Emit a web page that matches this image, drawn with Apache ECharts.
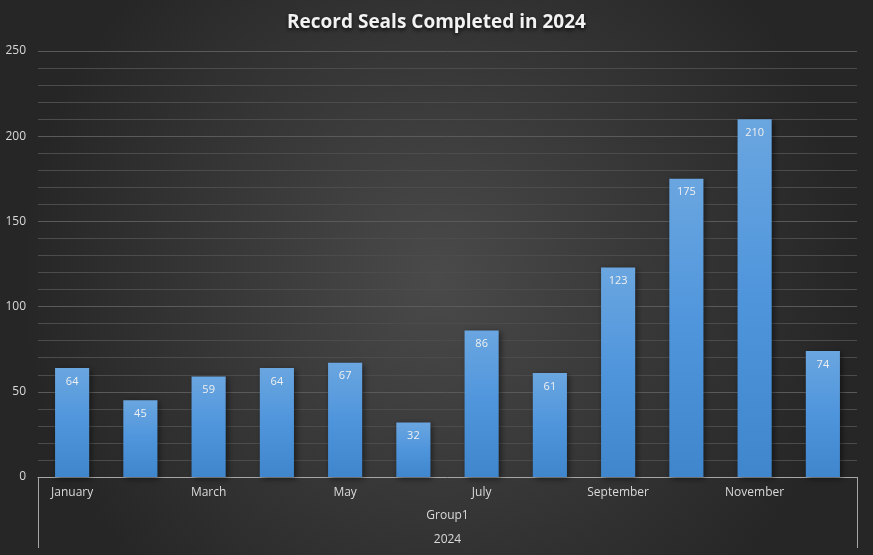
<!DOCTYPE html>
<html><head><meta charset="utf-8">
<script src="https://cdn.jsdelivr.net/npm/echarts@6/dist/echarts.min.js"></script>
<style>html,body{margin:0;padding:0;}#c{width:873px;height:555px;}</style>
</head><body><div id="c"></div>
<script>
const months = ['January','February','March','April','May','June','July','August','September','October','November','December'];
const seals = [64,45,59,64,67,32,86,61,123,175,210,74];
const groupLabels = ['Group1'];
const yearLabels = ['2024'];

const chart = echarts.init(document.getElementById('c'));
const font = '"Open Sans", "DejaVu Sans", sans-serif';
chart.setOption({
  backgroundColor: new echarts.graphic.RadialGradient(0.5, 0.5, 0.75, [
    {offset: 0, color: '#4a4a4a'}, {offset: 1, color: '#262626'}
  ]),
  title: {
    text: 'Record Seals Completed in 2024', left: 'center', top: 8,
    textStyle: {color: '#f2f2f2', fontSize: 19, fontWeight: 'bold', fontFamily: font,
      textShadowColor: 'rgba(0,0,0,0.8)', textShadowBlur: 4, textShadowOffsetY: 2}
  },
  grid: {left: 38, right: 16, top: 51, bottom: 78},
  xAxis: [
    {type: 'category', data: months, position: 'bottom',
     axisLine: {lineStyle: {color: '#a6a6a6'}}, axisTick: {show: false},
     axisLabel: {color: '#d9d9d9', fontSize: 12, fontFamily: font, margin: 10}},
    {type: 'category', data: groupLabels, position: 'bottom',
     axisLine: {show: false},
     axisTick: {show: true, length: 71, lineStyle: {color: '#a6a6a6'}},
     axisLabel: {color: '#d9d9d9', fontSize: 12, fontFamily: font, margin: 33}},
    {type: 'category', data: yearLabels, position: 'bottom',
     axisLine: {show: false}, axisTick: {show: false},
     axisLabel: {color: '#d9d9d9', fontSize: 12, fontFamily: font, margin: 57}}
  ],
  yAxis: {
    type: 'value', min: 0, max: 250, interval: 50,
    axisLine: {show: false}, axisTick: {show: false},
    axisLabel: {color: '#d9d9d9', fontSize: 12, fontFamily: font, margin: 12},
    splitLine: {lineStyle: {color: '#5a5a5a'}},
    minorTick: {show: false, splitNumber: 5},
    minorSplitLine: {show: true, lineStyle: {color: '#4c4c4c'}}
  },
  series: [{
    type: 'bar', data: seals, barWidth: '50%', xAxisIndex: 0,
    itemStyle: {
      color: new echarts.graphic.LinearGradient(0, 0, 0, 1, [
        {offset: 0, color: '#6aa6e0'}, {offset: 0.5, color: '#4f95dc'}, {offset: 1, color: '#3f86cc'}
      ]),
      shadowColor: 'rgba(0,0,0,0.5)', shadowBlur: 6, shadowOffsetX: 2, shadowOffsetY: 2
    },
    label: {show: true, position: 'insideTop', distance: 8, color: '#f0f0f0', fontSize: 11, fontFamily: font}
  }]
});
</script></body></html>
